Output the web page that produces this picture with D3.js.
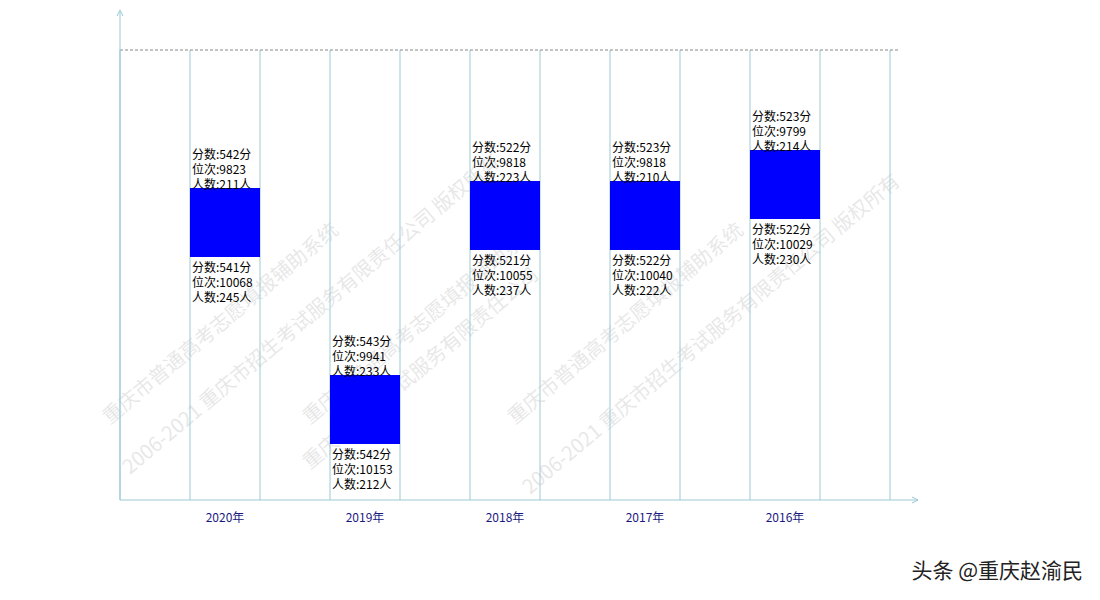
<!DOCTYPE html><html><head><meta charset="utf-8"><script src="https://cdn.jsdelivr.net/npm/d3@7"></script>
<style>body{margin:0;background:#fff}text{font-family:"Noto Sans CJK SC","Microsoft YaHei",sans-serif}</style></head><body>
<svg id="c" width="1100" height="600"></svg>
<script>
const years=["2020年","2019年","2018年","2017年","2016年"];
const slots=[1,3,5,7,9];
const barTop=[312,125,319,319,350];
const barBottom=[243,56,250,250,281];
const topScore=[542,543,522,523,523], topRank=[9823,9941,9818,9818,9799], topCount=[211,233,223,210,214];
const botScore=[541,542,521,522,522], botRank=[10068,10153,10055,10040,10029], botCount=[245,212,237,222,230];
const svg=d3.select("#c");
const x=d3.scaleLinear().domain([0,11]).range([120,890]);
const y=d3.scaleLinear().domain([0,450]).range([500,50]);
const ax="#9cc9d6";
// watermark
const wm=[["重庆市普通高考志愿填报辅助系统",110,425],["2006-2021  重庆市招生考试服务有限责任公司    版权所有",130,475],["重庆市普通高考志愿填报辅助系统",310,425],["重庆市招生考试服务有限责任公司",310,470],["重庆市普通高考志愿填报辅助系统",515,425],["2006-2021  重庆市招生考试服务有限责任公司    版权所有",530,495]];
wm.forEach(w=>svg.append("text").attr("transform",`translate(${w[1]},${w[2]}) rotate(-40)`).attr("font-size",20).attr("fill","#000").attr("opacity",0.09).text(w[0]));
d3.range(0,12).forEach(i=>svg.append("line").attr("x1",x(i)).attr("x2",x(i)).attr("y1",y(450)).attr("y2",y(0)).attr("stroke",ax));
svg.append("line").attr("x1",120).attr("x2",900).attr("y1",y(450)).attr("y2",y(450)).attr("stroke","#888").attr("stroke-dasharray","3,2");
svg.append("line").attr("x1",120).attr("x2",120).attr("y1",12).attr("y2",500).attr("stroke",ax);
svg.append("path").attr("d","M117,16L120,10L123,16").attr("fill","none").attr("stroke",ax);
svg.append("line").attr("x1",120).attr("x2",918).attr("y1",500).attr("y2",500).attr("stroke",ax);
svg.append("path").attr("d","M912,497L918,500L912,503").attr("fill","none").attr("stroke",ax);
years.forEach((yr,i)=>{
  const x0=x(slots[i]),x1=x(slots[i]+1);
  svg.append("rect").attr("x",x0).attr("width",x1-x0).attr("y",y(barTop[i])).attr("height",y(barBottom[i])-y(barTop[i])).attr("fill","#0000ff");
  svg.append("text").attr("x",(x0+x1)/2).attr("y",522).attr("text-anchor","middle").attr("font-size",12).attr("fill","#1a1a80").text(yr);
  const tl=["分数:"+topScore[i]+"分","位次:"+topRank[i],"人数:"+topCount[i]+"人"];
  tl.forEach((t,k)=>svg.append("text").attr("x",x0+2).attr("y",y(barTop[i])-30+k*15+1).attr("font-size",12).attr("fill","#000").text(t));
  const bl=["分数:"+botScore[i]+"分","位次:"+botRank[i],"人数:"+botCount[i]+"人"];
  bl.forEach((t,k)=>svg.append("text").attr("x",x0+2).attr("y",y(barBottom[i])+15+k*15).attr("font-size",12).attr("fill","#000").text(t));
});
svg.append("text").attr("x",1083).attr("y",578).attr("text-anchor","end").attr("font-size",21).attr("fill","#222").text("头条 @重庆赵渝民");
</script></body></html>
